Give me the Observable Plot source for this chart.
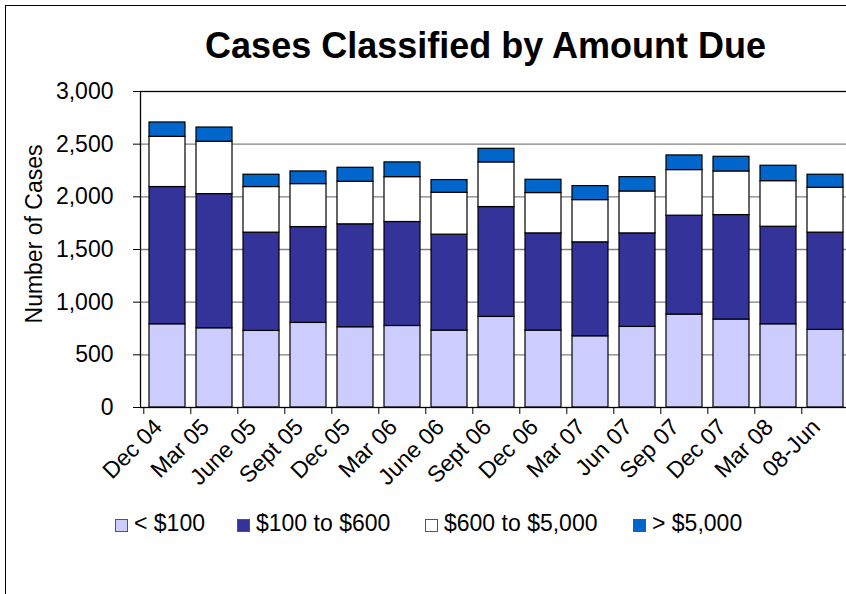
<!DOCTYPE html>
<html><head><meta charset="utf-8">
<script src="https://cdn.jsdelivr.net/npm/d3@7"></script>
<script src="https://cdn.jsdelivr.net/npm/@observablehq/plot@0.6"></script>
<style>
html,body{margin:0;padding:0;background:#fff;overflow:hidden;width:846px;height:594px}
#wrap{position:relative;width:846px;height:594px;overflow:hidden;font-family:"Liberation Sans",Arial,sans-serif;color:#000}
#frame{position:absolute;left:5px;top:5px;width:900px;height:700px;border:1.5px solid #000;box-sizing:border-box}
#title{position:absolute;left:0;top:28px;width:971px;text-align:center;font-weight:bold;font-size:36px;line-height:36px;white-space:nowrap}
#ylab{position:absolute;left:33.5px;top:234px;transform:translate(-50%,-50%) rotate(-90deg);font-size:23px;white-space:nowrap}
#chart{position:absolute;left:0;top:0}
.lg-sw{position:absolute;top:519px;width:13px;height:13px;box-sizing:border-box;border:1px solid #555}
.lg-tx{position:absolute;top:512px;font-size:23px;line-height:23px;white-space:nowrap}
</style></head>
<body><div id="wrap">
<div id="frame"></div>
<div id="title">Cases Classified by Amount Due</div>
<div id="ylab">Number of Cases</div>
<div id="chart"></div>
<div id="legend"></div>
</div>
<script>
const periods = ["Dec 04","Mar 05","June 05","Sept 05","Dec 05","Mar 06","June 06","Sept 06","Dec 06","Mar 07","Jun 07","Sep 07","Dec 07","Mar 08","08-Jun"];
const seriesNames = ["< $100","$100 to $600","$600 to $5,000","> $5,000"];
const seriesColors = ["#CCCCFF","#333399","#FFFFFF","#0066CC"];
const under100   = [790,752,727,803,762,774,730,860,730,676,765,882,835,790,737];
const from100to600 = [1303,1274,933,910,977,987,911,1043,923,892,888,939,992,926,923];
const from600to5000 = [477,497,433,408,404,426,398,424,383,401,398,433,414,433,426];
const over5000   = [136,135,117,120,133,140,120,129,126,133,136,139,139,146,124];
const yTicks = [0,500,1000,1500,2000,2500,3000];

const seriesValues = [under100, from100to600, from600to5000, over5000];
const data = [];
seriesNames.forEach((s, si) => periods.forEach((p, i) => data.push({period: p, series: s, value: seriesValues[si][i]})));

const step = 711 / periods.length;
const plot = Plot.plot({
  width: 860, height: 594,
  marginTop: 91, marginBottom: 187, marginLeft: 140, marginRight: 9,
  style: {maxWidth: "none", background: "transparent", overflow: "visible", fontFamily: "'Liberation Sans', Arial, sans-serif", color: "#000"},
  x: {domain: periods, paddingInner: 0.24, paddingOuter: 0.12, label: null},
  y: {domain: [0, 3000], label: null},
  color: {domain: seriesNames, range: seriesColors},
  marks: [
    Plot.ruleY(yTicks.slice(1, -1), {stroke: "#808080", strokeWidth: 1.3}),
    Plot.barY(data, {x: "period", y: "value", fill: "series", stroke: "#000", strokeWidth: 1.2}),
    Plot.frame({stroke: "#000", strokeWidth: 1.3}),
    Plot.axisY({ticks: yTicks, tickSize: 7, tickPadding: 20, tickFormat: d3.format(","), fontSize: 23, label: null}),
    Plot.axisX({tickSize: 7, dx: -step / 2, tickFormat: () => "", label: null}),
    Plot.text(periods, {x: d => d, frameAnchor: "bottom", rotate: -45, textAnchor: "end", lineAnchor: "bottom", dx: -4, dy: 21, fontSize: 23, fill: "#000"})
  ]
});
document.getElementById("chart").appendChild(plot);

const legendX = [115, 237, 425, 633];
const lg = document.getElementById("legend");
seriesNames.forEach((s, i) => {
  const sw = document.createElement("div");
  sw.className = "lg-sw"; sw.style.left = legendX[i] + "px"; sw.style.background = seriesColors[i];
  lg.appendChild(sw);
  const tx = document.createElement("div");
  tx.className = "lg-tx"; tx.style.left = (legendX[i] + 19) + "px"; tx.textContent = s;
  lg.appendChild(tx);
});
</script>
</body></html>
